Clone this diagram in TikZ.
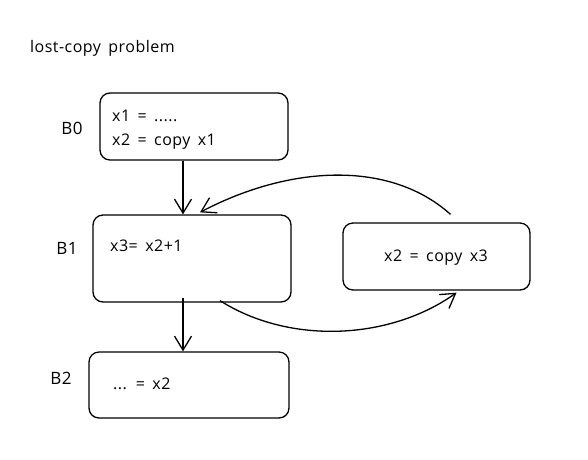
\documentclass[tikz,border=0pt]{standalone}
\usepackage{fontspec}
\setmainfont{Open Sans}[WordSpace=1.6, LetterSpace=3]
\usetikzlibrary{arrows.meta}

\begin{document}
\begin{tikzpicture}[x=1pt, y=-1pt,
  block/.style={draw, line width=1.3pt, rounded corners=10pt, inner sep=0pt},
  code/.style={font=\fontsize{16}{24}\selectfont, align=left, inner sep=0pt},
  blklabel/.style={font=\fontsize{17}{19}\selectfont, inner sep=0pt},
  flow/.style={line width=1.3pt, -{Straight Barb[length=14pt, width=17pt, line width=1.3pt]}},
]

\useasboundingbox (0,0) rectangle (588,459);

% title
\node[font=\fontsize{16}{18}\selectfont, inner sep=0pt, anchor=west] (title) at (30,48) {lost-copy problem};

% blocks
\node[block, minimum width=188pt, minimum height=67pt] (b0) at (194,126.5) {};
\node[block, minimum width=198pt, minimum height=87pt] (b1) at (192,258.5) {};
\node[block, minimum width=187pt, minimum height=67pt] (bc) at (436.5,256.5) {};
\node[block, minimum width=200pt, minimum height=66pt] (b2) at (189,385) {};

% block names
\node[blklabel] (n0) at (72,128) {B0};
\node[blklabel] (n1) at (67,248) {B1};
\node[blklabel] (n2) at (61,378) {B2};

% code
\node[code, anchor=west] (c0) at (112,130) {x1 = .....\\x2 = copy x1};
\node[code, anchor=west] (c1) at (110,246) {x3= x2+1};
\node[code] (cc) at (436,258) {x2 = copy x3};
\node[code, anchor=west] (c2) at (113,384) {... = x2};

% edges
\draw[flow] ([xshift=-11pt]b0.south) -- ([xshift=-9pt]b1.north);
\draw[flow] ([xshift=-9pt,yshift=5pt]b1.south) -- ([xshift=-6pt]b2.north);
\draw[flow] ([xshift=28pt,yshift=2pt]b1.south) .. controls (290,345) and (390,340) .. ([xshift=20pt,yshift=-2pt]bc.south);
\draw[flow] ([xshift=14pt,yshift=8pt]bc.north) .. controls (390,160) and (290,165) .. ([xshift=8pt,yshift=2pt]b1.north);

\end{tikzpicture}
\end{document}
